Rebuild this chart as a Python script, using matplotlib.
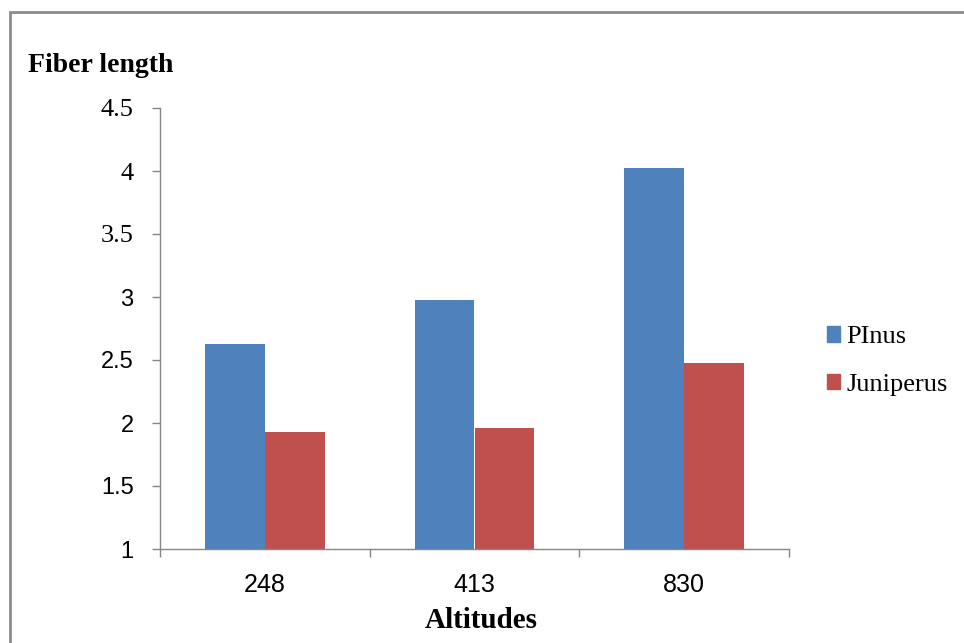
import numpy as np
import matplotlib
matplotlib.use("Agg")
import matplotlib.pyplot as plt
from matplotlib.patches import Rectangle, Patch

altitudes = ["248", "413", "830"]
pinus = [2.63, 2.98, 4.02]
juniperus = [1.93, 1.96, 2.48]
y_ticks = [1, 1.5, 2, 2.5, 3, 3.5, 4, 4.5]
y_tick_labels = ["1", "1.5", "2", "2.5", "3", "3.5", "4", "4.5"]

blue = "#4F81BD"
red = "#C0504D"
axis_grey = "#868686"
serif = ["Liberation Serif", "DejaVu Serif"]
sans = ["Liberation Sans", "DejaVu Sans"]

fig = plt.figure(figsize=(9.64, 6.43), dpi=100)
ax = fig.add_axes([160 / 964, 1 - 549 / 643, 629 / 964, 441 / 643])

# outer frame of the chart area
fig.patches.append(Rectangle((10 / 964, -0.1), 1.2, 1 - 12 / 643 + 0.1,
                             transform=fig.transFigure, fill=False,
                             edgecolor="#8c8c8c", linewidth=2))

x = np.arange(len(altitudes))
w = 60 / 209.7
ax.bar(x - w / 2, np.array(pinus) - 1, w, bottom=1, color=blue, label="PInus")
ax.bar(x + w / 2, np.array(juniperus) - 1, w, bottom=1, color=red, label="Juniperus")

ax.set_xlim(-0.5, 2.5)
ax.set_ylim(1, 4.5)
ax.set_yticks(y_ticks)
ax.set_yticklabels(y_tick_labels, fontsize=17)
# the upper labels are drawn in a serif face in the original, the lower ones sans
for lab, v in zip(ax.get_yticklabels(), y_ticks):
    lab.set_family(serif if v > 3 else sans)
    if v > 3:
        lab.set_fontsize(19)
ax.set_xticks(x)
ax.set_xticklabels(altitudes, family=sans, fontsize=18)
ax.tick_params(axis="x", length=0, pad=17)
ax.tick_params(axis="y", length=6, color=axis_grey, width=1, pad=13)
ax.set_xticks([-0.5, 0.5, 1.5, 2.5], minor=True)
ax.tick_params(axis="x", which="minor", length=6, color=axis_grey, width=1)

for s in ["top", "right"]:
    ax.spines[s].set_visible(False)
for s in ["left", "bottom"]:
    ax.spines[s].set_color(axis_grey)
    ax.spines[s].set_linewidth(1)

fig.text(28 / 964, 1 - 65 / 643, "Fiber length", family=serif, fontsize=20,
         fontweight="bold", va="center", ha="left")
fig.text(481 / 964, 1 - 620 / 643, "Altitudes", family=serif, fontsize=21,
         fontweight="bold", va="center", ha="center")

handles = [Patch(color=blue, label="PInus"), Patch(color=red, label="Juniperus")]
fig.legend(handles=handles, loc="center left", bbox_to_anchor=(803 / 964, 1 - 361 / 643),
           frameon=False, prop={"family": serif, "size": 19}, handlelength=0.5,
           handleheight=0.55, handletextpad=0.25, labelspacing=0.95)

fig.savefig("out.png", dpi=100)
